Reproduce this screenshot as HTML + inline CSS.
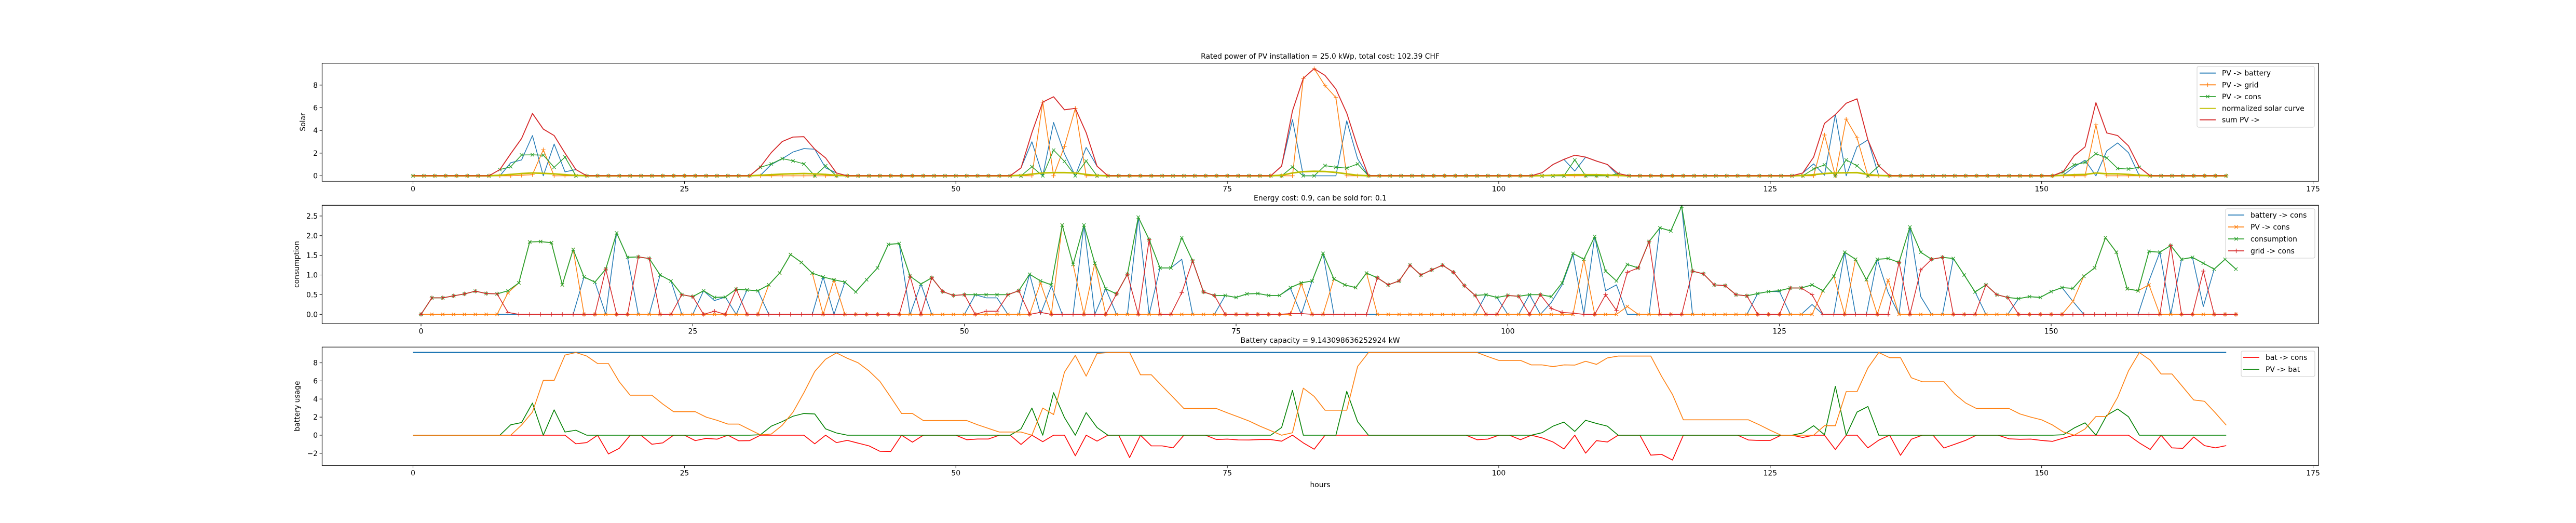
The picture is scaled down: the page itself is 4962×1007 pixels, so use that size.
<!DOCTYPE html>
<html><head><meta charset="utf-8"><style>
html,body{margin:0;padding:0;background:#fff;}
svg{display:block;font-family:"DejaVu Sans","Liberation Sans",sans-serif;}
</style></head><body>
<svg id="fig" width="4962" height="1007" viewBox="0 0 4962 1007" xmlns="http://www.w3.org/2000/svg">
<rect width="4962" height="1007" fill="#fff"/>
</svg>
<script>
// ---------- Panel 1 data (Solar) ----------
const hours = Array.from({length:168},(_, i)=>i);
const pvBattery = [0,0,0,0,0,0,0,0,0,1.15, 1.4,3.55,0,2.8,0.35,0.55,0,0,0,0, 0,0,0,0,0,0,0,0,0,0, 0,0,0.05,1.0,1.5,2.1,2.4,2.35,0.7,0.25, 0,0,0,0,0,0,0,0,0,0,
 0,0,0,0,0,0,0.7,3.0,0,4.7, 1.95,0,2.5,0.85,0,0,0,0,0,0, 0,0,0,0,0,0,0,0,0,0, 0.85,4.95,0,0,0,0,4.85,1.5,0,0, 0,0,0,0,0,0,0,0,0,0,
 0,0,0,0,0.28,1.0,1.45,0.42,1.65,1.3, 1.0,0,0,0,0,0,0,0,0,0, 0,0,0,0,0,0,0,0,0.25,1.05, 0.05,5.4,0,2.56,3.17,0,0,0,0,0, 0,0,0,0,0,0,0,0,0,0,
 0,0,0.05,0.8,1.37,0,2.2,2.9,2.04,0, 0,0,0,0,0,0,0,0];
const pvGrid = [0,0,0,0,0,0,0,0,0,0, 0.05,0.1,2.3,0,0,0,0,0,0,0, 0,0,0,0,0,0,0,0,0,0, 0,0,0,0,0,0,0,0,0,0, 0,0,0,0,0,0,0,0,0,0,
 0,0,0,0,0,0,0,0,6.5,0, 2.6,5.95,0,0,0,0,0,0,0,0, 0,0,0,0,0,0,0,0,0,0, 0,0,8.6,9.45,7.95,6.9,0,0,0,0, 0,0,0,0,0,0,0,0,0,0,
 0,0,0,0,0,0,0,0,0,0, 0,0,0,0,0,0,0,0,0,0, 0,0,0,0,0,0,0,0,0,0, 3.6,0,5.0,3.35,0,0,0,0,0,0, 0,0,0,0,0,0,0,0,0,0,
 0,0,0,0,0,4.5,0,0,0,0, 0,0,0,0,0,0,0,0];
const pvCons = [0,0,0,0,0,0,0,0,0.55,0.8, 1.84,1.85,1.82,0.75,1.65,0,0,0,0,0, 0,0,0,0,0,0,0,0,0,0, 0,0,0.75,1.05,1.52,1.32,1.05,0,0.88,0, 0,0,0,0,0,0,0,0,0,0,
 0,0,0,0,0,0,0,0.8,0,2.27, 1.27,0,1.3,0,0,0,0,0,0,0, 0,0,0,0,0,0,0,0,0,0, 0,0.78,0,0,0.9,0.75,0.68,1.05,0,0, 0,0,0,0,0,0,0,0,0,0,
 0,0,0,0,0,0,0,1.4,0,0, 0,0.2,0,0,0,0,0,0,0,0, 0,0,0,0,0,0,0,0,0,0.6, 0.97,0,1.4,0.88,0,0.87,0,0,0,0, 0,0,0,0,0,0,0,0,0,0,
 0,0,0.33,0.97,1.18,1.95,1.58,0.65,0.6,0.75, 0,0,0,0,0,0,0,0];
const solarCurve = [0,0,0,0,0,0,0,0,0.05,0.12, 0.2,0.25,0.22,0.17,0.1,0.04,0,0,0,0, 0,0,0,0,0,0,0,0,0,0, 0,0,0.05,0.1,0.15,0.18,0.2,0.17,0.12,0.05, 0,0,0,0,0,0,0,0,0,0,
 0,0,0,0,0,0,0.05,0.15,0.25,0.28, 0.28,0.25,0.12,0.03,0,0,0,0,0,0, 0,0,0,0,0,0,0,0,0,0, 0.05,0.25,0.37,0.4,0.38,0.3,0.17,0.05,0,0, 0,0,0,0,0,0,0,0,0,0,
 0,0,0,0,0.02,0.05,0.08,0.1,0.1,0.1, 0.07,0.03,0,0,0,0,0,0,0,0, 0,0,0,0,0,0,0,0,0.03,0.1, 0.2,0.25,0.27,0.28,0.12,0.03,0,0,0,0, 0,0,0,0,0,0,0,0,0,0,
 0,0,0.05,0.1,0.12,0.25,0.18,0.17,0.12,0.05, 0,0,0,0,0,0,0,0];
const sumPV = [0,0,0,0,0,0,0,0,0.55,1.95, 3.29,5.5,4.12,3.55,2.0,0.55,0,0,0,0, 0,0,0,0,0,0,0,0,0,0, 0,0,0.8,2.05,3.02,3.42,3.45,2.35,1.58,0.25, 0,0,0,0,0,0,0,0,0,0,
 0,0,0,0,0,0,0.7,3.8,6.5,6.97, 5.82,5.95,3.8,0.85,0,0,0,0,0,0, 0,0,0,0,0,0,0,0,0,0, 0.85,5.73,8.6,9.45,8.85,7.65,5.53,2.55,0,0, 0,0,0,0,0,0,0,0,0,0,
 0,0,0,0,0.28,1.0,1.45,1.82,1.65,1.3, 1.0,0.2,0,0,0,0,0,0,0,0, 0,0,0,0,0,0,0,0,0.25,1.65, 4.62,5.4,6.4,6.79,3.17,0.87,0,0,0,0, 0,0,0,0,0,0,0,0,0,0,
 0,0,0.38,1.77,2.55,6.45,3.78,3.55,2.64,0.75, 0,0,0,0,0,0,0,0];
// ---------- Panel 2 data (consumption) ----------
const batteryToCons = [0,0,0,0,0,0,0,0,0,0, 0,0,0,0,0,0.95,0.82,0,2.07,1.45, 0,0,1.0,0.85,0,0,0.6,0.35,0.44,0, 0.62,0.6,0,0,0,0,0,0.95,0,0.82, 0.57,0.88,1.18,1.78,1.8,0,0.77,0,0,0,
 0,0.5,0.42,0.42,0,0,1.02,0,0.72,0, 0,2.27,0,0.65,0,0,2.47,0,1.18,1.18, 1.4,0,0,0,0.48,0.43,0.52,0.53,0.48,0.48, 0.66,0,0.85,1.55,0,0,0,0,0,0, 0,0,0,0,0,0,0,0,0.5,0.43,
 0,0,0.5,0,0.3,0.75,1.52,0,1.98,0.6, 0.75,0,0,0,2.2,2.12,2.75,0,0,0, 0,0,0,0.53,0.58,0.58,0,0,0.25,0, 0,1.58,0,0,1.4,0.55,0,2.22,0.45,0, 0,1.42,1.0,0.57,0,0,0,0.4,0.45,0.43,
 0.58,0.68,0.33,0,0,0,0,0,0,0.85, 1.58,0,1.4,1.45,0.2,1.15,1.4,1.15];
const consumption = [0,0.42,0.42,0.47,0.52,0.59,0.53,0.52,0.6,0.8, 1.84,1.85,1.82,0.75,1.65,0.95,0.82,1.15,2.07,1.45, 1.46,1.42,1.0,0.85,0.5,0.45,0.6,0.43,0.44,0.64, 0.62,0.6,0.75,1.05,1.52,1.32,1.05,0.95,0.88,0.82, 0.57,0.88,1.18,1.78,1.8,0.97,0.77,0.93,0.58,0.48,
 0.5,0.5,0.5,0.5,0.5,0.6,1.02,0.85,0.75,2.27, 1.27,2.27,1.3,0.65,0.52,1.02,2.47,1.9,1.18,1.18, 1.95,1.36,0.57,0.48,0.48,0.43,0.52,0.53,0.48,0.48, 0.68,0.8,0.85,1.55,0.9,0.75,0.68,1.05,0.93,0.75, 0.85,1.25,1.0,1.13,1.25,1.07,0.73,0.48,0.5,0.43,
 0.48,0.46,0.5,0.5,0.45,0.8,1.55,1.4,1.98,1.1, 0.85,1.27,1.18,1.85,2.2,2.12,2.75,1.1,1.03,0.75, 0.73,0.5,0.47,0.53,0.58,0.6,0.67,0.67,0.75,0.6, 0.97,1.58,1.4,0.88,1.4,1.42,1.32,2.22,1.58,1.4, 1.45,1.42,1.0,0.57,0.75,0.5,0.43,0.4,0.45,0.43,
 0.58,0.68,0.66,0.97,1.18,1.95,1.58,0.65,0.6,1.6, 1.58,1.75,1.4,1.45,1.3,1.15,1.4,1.15];
const gridToCons = [0,0.42,0.42,0.47,0.52,0.59,0.53,0.52,0.05,0, 0,0,0,0,0,0,0,1.15,0,0, 1.46,1.42,0,0,0.5,0.45,0,0.08,0,0.64, 0,0,0,0,0,0,0,0,0,0, 0,0,0,0,0,0.97,0,0.93,0.58,0.48,
 0.5,0,0.08,0.08,0.5,0.6,0,0.05,0,0, 0,0,0,0,0.52,1.02,0,1.9,0,0, 0.55,1.36,0.57,0.48,0,0,0,0,0,0, 0.02,0.02,0,0,0,0,0,0,0.93,0.75, 0.85,1.25,1.0,1.13,1.25,1.07,0.73,0.48,0,0,
 0.48,0.46,0,0.5,0.15,0.05,0.03,0,0,0.5, 0.1,1.07,1.18,1.85,0,0,0,1.1,1.03,0.75, 0.73,0.5,0.47,0,0,0,0.67,0.67,0.5,0, 0,0,0,0,0,0,1.32,0,1.13,1.4, 1.45,0,0,0,0.75,0.5,0.43,0,0,0,
 0,0,0,0,0,0,0,0,0,0, 0,1.75,0,0,1.1,0,0,0];
// ---------- Panel 3 data (battery) ----------
const batteryCapacity = 9.143098636252924;
const batteryCharge = [0,0,0,0,0,0,0,0,0,0, 1.12,2.56,6.06,6.06,8.86,9.14,8.75,7.92,7.92,5.9, 4.42,4.42,4.42,3.45,2.6,2.6,2.6,2.0,1.65,1.23, 1.23,0.63,0.04,0.13,1.09,2.55,4.7,7.04,8.4,9.1, 8.5,8.0,7.1,5.95,4.2,2.4,2.4,1.62,1.62,1.62,
 1.62,1.62,1.15,0.75,0.35,0.35,0.35,0,3.0,2.28, 6.97,8.82,6.53,9.03,9.14,9.14,9.14,6.68,6.68,5.43, 4.2,2.95,2.95,2.95,2.95,2.47,2.03,1.57,1.0,0.5, 0,0.27,5.2,4.29,2.76,2.76,2.76,7.6,9.14,9.14, 9.14,9.14,9.14,9.14,9.14,9.14,9.14,9.14,9.14,8.69,
 8.27,8.27,8.27,7.77,7.77,7.58,7.77,7.75,8.17,7.83, 8.54,8.75,8.75,8.75,8.75,6.5,4.5,1.7,1.7,1.7, 1.7,1.7,1.7,1.7,1.15,0.55,0,0,0,0, 1.05,1.05,4.82,4.82,7.44,9.14,8.57,8.57,6.35,5.91, 5.91,5.91,4.54,3.56,2.95,2.95,2.95,2.95,2.35,2.0,
 1.7,1.13,0.36,0,0.69,2.07,2.07,4.19,7.12,9.14, 8.3,6.77,6.77,5.34,3.9,3.75,2.47,1.11];
const batToCons = batteryToCons.map(v => -v);
const pvToBat = pvBattery;
const xTicks = [0,25,50,75,100,125,150,175];
const yTicks1 = [0,2,4,6,8];
const yTicks2 = [0.0,0.5,1.0,1.5,2.0,2.5];
const yTicks3 = [-2,0,2,4,6,8];

const NS = 'http://www.w3.org/2000/svg';
const svg = document.getElementById('fig');
function mk(tag, attrs, parent){ const e=document.createElementNS(NS,tag); for(const k in attrs) e.setAttribute(k,attrs[k]); (parent||svg).appendChild(e); return e; }
const FS = 13.9;

function makeAxes(name, box, xdom, ydom, yt, yfmt){
  const g = mk('g',{});
  
  
  const sx = v => box.l + (v - xdom[0])/(xdom[1]-xdom[0])*(box.r-box.l);
  const sy = v => box.b - (v - ydom[0])/(ydom[1]-ydom[0])*(box.b-box.t);
  const cid = 'clip-'+name;
  const cp = mk('clipPath',{id:cid},g);
  mk('rect',{x:box.l,y:box.t,width:box.r-box.l,height:box.b-box.t},cp);
  const plot = mk('g',{'clip-path':'url(#'+cid+')'},g);
  
  
  const tg = mk('g',{},g);
  
  
  xTicks.forEach(t=>{
    const x=sx(t);
    if(x>box.r+0.5 || x<box.l-0.5) return;
    mk('line',{x1:x,x2:x,y1:box.b,y2:box.b+4.9,stroke:'#000','stroke-width':1},tg);
    const tx=mk('text',{x:x,y:box.b+8.5+FS*0.78,'text-anchor':'middle','font-size':FS,fill:'#000'},tg);
    tx.textContent=String(t);
  });
  yt.forEach(t=>{
    const y=sy(t);
    mk('line',{x1:box.l-4.9,x2:box.l,y1:y,y2:y,stroke:'#000','stroke-width':1},tg);
    const tx=mk('text',{x:box.l-8.4,y:y+FS*0.36,'text-anchor':'end','font-size':FS,fill:'#000'},tg);
    tx.textContent=yfmt(t);
  });
  return {g, plot, sx, sy, box};
}
function drawLine(ax, name, xs, ys, color, lw){
  const d = xs.map((x,i)=>(i?'L':'M')+ax.sx(x).toFixed(2)+','+ax.sy(ys[i]).toFixed(2)).join('');
  const p = mk('path',{d:d,fill:'none',stroke:color,'stroke-width':lw,'stroke-linejoin':'round'},ax.plot);
  
  
  return p;
}
function drawMarkers(ax, name, xs, ys, color, type){
  const g = mk('g',{},ax.plot);
  
  
  let d='';
  const s=4.2, s2=3.2;
  xs.forEach((x,i)=>{
    const px=ax.sx(x), py=ax.sy(ys[i]);
    if(type==='+') d+=`M${px-s},${py}H${px+s}M${px},${py-s}V${py+s}`;
    else d+=`M${px-s2},${py-s2}L${px+s2},${py+s2}M${px-s2},${py+s2}L${px+s2},${py-s2}`;
  });
  mk('path',{d:d,fill:'none',stroke:color,'stroke-width':1.2},g);
}
function frame(ax){
  const b=ax.box;
  const r=mk('rect',{x:b.l,y:b.t,width:b.r-b.l,height:b.b-b.t,fill:'none',stroke:'#000','stroke-width':1.2},ax.g);
  
  
}
function text(str, x, y, name, opts){
  const t=mk('text',Object.assign({x:x,y:y,'text-anchor':'middle','font-size':FS,fill:'#000'},opts||{}));
  t.textContent=str;
  
  
  return t;
}
function legend(name, x, y, w, h, entries, rowY, hx, tx){
  const g=mk('g',{});
  
  
  mk('rect',{x:x,y:y,width:w,height:h,rx:3,fill:'#fff','fill-opacity':0.8,stroke:'#ccc','stroke-width':1},g);
  entries.forEach((e,i)=>{
    const eg=mk('g',{},g);
    
    
    const yy=rowY[i];
    mk('line',{x1:hx,x2:hx+31,y1:yy,y2:yy,stroke:e.color,'stroke-width':e.lw||1.8},eg);
    if(e.m==='+') mk('path',{d:`M${hx+11.3},${yy}H${hx+19.7}M${hx+15.5},${yy-4.2}V${yy+4.2}`,stroke:e.color,'stroke-width':1.2},eg);
    if(e.m==='x') mk('path',{d:`M${hx+12.3},${yy-3.2}L${hx+18.7},${yy+3.2}M${hx+12.3},${yy+3.2}L${hx+18.7},${yy-3.2}`,stroke:e.color,'stroke-width':1.2},eg);
    const t=mk('text',{x:tx,y:yy+FS*0.36,'font-size':FS,fill:'#000'},eg);
    t.textContent=e.label;
  });
}

const L=620.5, R=4466;
// ---- Panel 1 ----
const ax1 = makeAxes('solar-axes',{l:L,r:R,t:121.7,b:349},[-8.37,175.5],[-0.48,9.93],yTicks1,v=>String(v));
drawLine(ax1,'pv-battery-line',hours,pvBattery,'#1f77b4',1.5);
drawLine(ax1,'pv-grid-line',hours,pvGrid,'#ff7f0e',1.5);
drawMarkers(ax1,'pv-grid-markers',hours,pvGrid,'#ff7f0e','+');
drawLine(ax1,'pv-cons-line',hours,pvCons,'#2ca02c',1.5);
drawMarkers(ax1,'pv-cons-markers',hours,pvCons,'#2ca02c','x');
drawLine(ax1,'solar-curve-line',hours,solarCurve,'#bfbf00',3);
drawLine(ax1,'sum-pv-line',hours,sumPV,'#d62728',1.8);
frame(ax1);
text('Rated power of PV installation = 25.0 kWp, total cost: 102.39 CHF',2543,113,'solar-title');
text('Solar',588,235,'solar-y-axis-title',{transform:'rotate(-90 588 235)'});
legend('solar-legend',4232,128,226,117,[
 {key:'pv-battery',label:'PV -> battery',color:'#1f77b4'},
 {key:'pv-grid',label:'PV -> grid',color:'#ff7f0e',m:'+'},
 {key:'pv-cons',label:'PV -> cons',color:'#2ca02c',m:'x'},
 {key:'solar-curve',label:'normalized solar curve',color:'#bfbf00'},
 {key:'sum-pv',label:'sum PV ->',color:'#d62728'}],[140.7,163.3,186,208.7,230.7],4237,4280);

// ---- Panel 2 ----
const ax2 = makeAxes('consumption-axes',{l:L,r:R,t:395.3,b:623.3},[-9.1,174.6],[-0.238,2.772],yTicks2,v=>v.toFixed(1));
drawLine(ax2,'battery-cons-line',hours,batteryToCons,'#1f77b4',1.5);
drawLine(ax2,'pv-cons-line-2',hours,pvCons,'#ff7f0e',1.5);
drawMarkers(ax2,'pv-cons-markers-2',hours,pvCons,'#ff7f0e','x');
drawLine(ax2,'consumption-line',hours,consumption,'#2ca02c',1.8);
drawMarkers(ax2,'consumption-markers',hours,consumption,'#2ca02c','x');
drawLine(ax2,'grid-cons-line',hours,gridToCons,'#d62728',1.5);
drawMarkers(ax2,'grid-cons-markers',hours,gridToCons,'#d62728','+');
frame(ax2);
text('Energy cost: 0.9, can be sold for: 0.1',2543,386,'consumption-title');
text('consumption',576,509,'consumption-y-axis-title',{transform:'rotate(-90 576 509)'});
legend('consumption-legend',4287,402,172,95,[
 {key:'battery-cons',label:'battery -> cons',color:'#1f77b4'},
 {key:'pv-cons',label:'PV -> cons',color:'#ff7f0e',m:'x'},
 {key:'consumption',label:'consumption',color:'#2ca02c',m:'x'},
 {key:'grid-cons',label:'grid -> cons',color:'#d62728',m:'+'}],[414,437,460,483],4292,4335);

// ---- Panel 3 ----
const ax3 = makeAxes('battery-axes',{l:L,r:R,t:668.3,b:896.3},[-8.37,175.5],[-3.35,9.74],yTicks3,v=>(v<0?'\u2212'+(-v):String(v)));
drawLine(ax3,'battery-capacity-line',[0,167],[batteryCapacity,batteryCapacity],'#1f77b4',2.5);
drawLine(ax3,'bat-cons-line',hours,batToCons,'#ff0000',1.6);
drawLine(ax3,'pv-bat-line',hours,pvToBat,'#008000',1.6);
drawLine(ax3,'battery-charge-line',hours,batteryCharge,'#ff7f0e',1.6);
frame(ax3);
text('Battery capacity = 9.143098636252924 kW',2543,660,'battery-title');
text('battery usage',577,782,'battery-y-axis-title',{transform:'rotate(-90 577 782)'});
text('hours',2543,938,'x-axis-title');
legend('battery-legend',4317,676,142,49,[
 {key:'bat-cons',label:'bat -> cons',color:'#ff0000'},
 {key:'pv-bat',label:'PV -> bat',color:'#008000'}],[688,711],4321,4364);
</script>
</body></html>
